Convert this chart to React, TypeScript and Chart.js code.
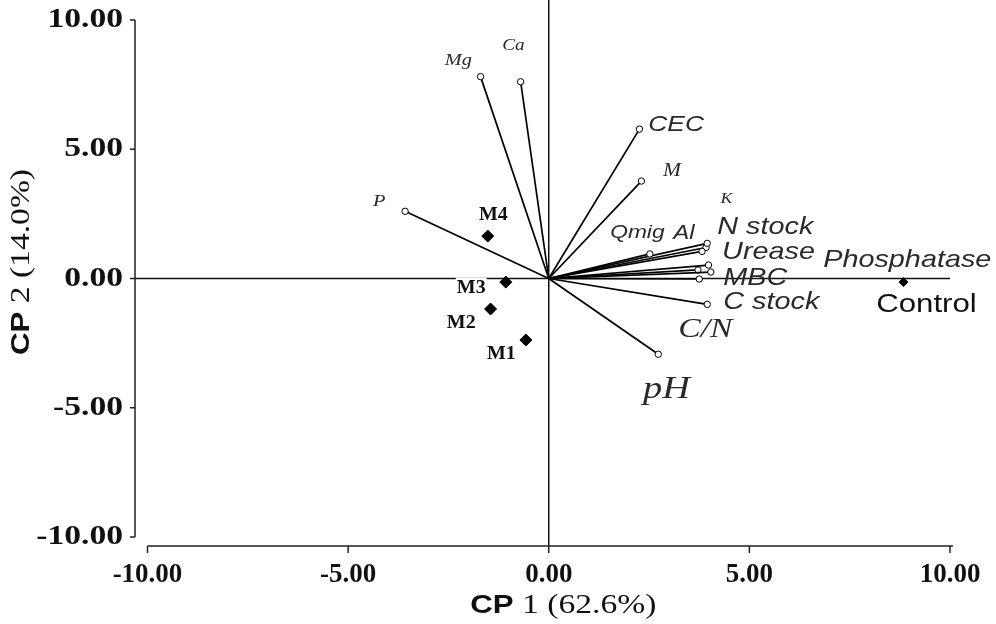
import React, { useEffect, useRef } from 'react';
import { Chart, registerables } from 'chart.js';

Chart.register(...registerables);

// ---- data ----
const variableNames = ['Mg', 'Ca', 'P', 'CEC', 'M', 'Qmig', 'Al', 'K', 'N stock', 'Urease', 'Phosphatase', 'MBC', 'C stock', 'C/N', 'pH'];
const loadingX = [-1.70, -0.70, -3.58, 2.26, 2.31, 2.52, 3.82, 3.95, 3.92, 3.98, 4.04, 3.72, 3.75, 3.95, 2.73];
const loadingY = [7.81, 7.61, 2.60, 5.78, 3.77, 0.95, 1.05, 1.36, 1.20, 0.52, 0.25, 0.33, -0.02, -1.00, -2.93];

const treatmentNames = ['M1', 'M2', 'M3', 'M4', 'Control'];
const scoreX = [-0.57, -1.45, -1.07, -1.52, 8.84];
const scoreY = [-2.38, -1.18, -0.14, 1.64, -0.14];

const xTicks = [-10, -5, 0, 5, 10];
const yTicks = [-10, -5, 0, 5, 10];
const xTitleBold = 'CP';
const xTitleRest = ' 1 (62.6%)';
const yTitleBold = 'CP';
const yTitleRest = ' 2 (14.0%)';

// ---- label placement (data coordinates, left edge / vertical middle) ----
const vectorLabelX = [-2.59, -1.16, -4.38, 2.48, 2.85, 1.53, 3.10, 4.28, 4.20, 4.32, 6.84, 4.35, 4.35, 3.23, 2.35];
const vectorLabelY = [8.45, 8.99, 2.96, 5.94, 4.16, 1.76, 1.76, 3.08, 1.99, 1.03, 0.72, 0.02, -0.91, -1.99, -4.31];
const treatmentLabelX = [-1.54, -2.54, -2.29, -1.74, 8.16];
const treatmentLabelY = [-2.92, -1.72, -0.37, 2.46, -1.03];

// ---- styles ----
const SERIF = '"Liberation Serif", "Times New Roman", serif';
const SANS = '"Liberation Sans", Arial, sans-serif';
const vectorLabelFonts = [
  `italic 17px ${SERIF}`, `italic 16px ${SERIF}`, `italic 17px ${SERIF}`, `italic 22px ${SANS}`,
  `italic 18px ${SERIF}`, `italic 19px ${SANS}`, `italic 20px ${SANS}`, `italic 15px ${SERIF}`,
  `italic 24px ${SANS}`, `italic 24px ${SANS}`, `italic 24px ${SANS}`, `italic 24px ${SANS}`,
  `italic 24px ${SANS}`, `italic 28px ${SERIF}`, `italic 32px ${SERIF}`,
];
const treatmentLabelFonts = [
  `bold 19px ${SERIF}`, `bold 19px ${SERIF}`, `bold 19px ${SERIF}`, `bold 19px ${SERIF}`, `26px ${SANS}`,
];
const STRETCH = 1.2;

function drawText(
  ctx: CanvasRenderingContext2D, s: string, px: number, py: number, font: string,
  align: CanvasTextAlign = 'left', stretch = STRETCH, color = '#111', bg = false,
) {
  ctx.save();
  ctx.font = font;
  ctx.textAlign = align;
  ctx.textBaseline = 'middle';
  ctx.translate(px, py);
  ctx.scale(stretch, 1);
  if (bg) {
    const w = ctx.measureText(s).width;
    const size = parseFloat(font.match(/(\d+(?:\.\d+)?)px/)![1]);
    const left = align === 'left' ? 0 : align === 'right' ? -w : -w / 2;
    ctx.fillStyle = '#fff';
    ctx.fillRect(left - 1, -size * 0.55, w + 2, size * 1.1);
  }
  ctx.fillStyle = color;
  ctx.fillText(s, 0, 0);
  ctx.restore();
}

function drawMixedTitle(ctx: CanvasRenderingContext2D, bold: string, rest: string, cx: number, cy: number, size: number) {
  const fBold = `bold ${size - 2}px ${SANS}`;
  const fRest = `${size}px ${SERIF}`;
  ctx.save();
  ctx.font = fBold;
  const w1 = ctx.measureText(bold).width * STRETCH;
  ctx.font = fRest;
  const w2 = ctx.measureText(rest).width * STRETCH;
  ctx.restore();
  const start = cx - (w1 + w2) / 2;
  drawText(ctx, bold, start, cy, fBold, 'left', STRETCH, '#111');
  drawText(ctx, rest, start + w1, cy, fRest, 'left', STRETCH, '#111');
}

const biplotPlugin = {
  id: 'biplot',
  beforeDatasetsDraw(chart: any) {
    const { ctx, scales } = chart;
    const x = scales.x;
    const y = scales.y;
    const x0 = x.getPixelForValue(0);
    const y0 = y.getPixelForValue(0);
    const xAxisY = y.getPixelForValue(yTicks[0]) + 9;
    const yAxisX = x.getPixelForValue(xTicks[0]) - 12.5;
    ctx.save();
    ctx.strokeStyle = '#111';
    ctx.lineWidth = 1.5;
    ctx.beginPath();
    ctx.moveTo(x0, 0);
    ctx.lineTo(x0, xAxisY);
    ctx.moveTo(yAxisX, y0);
    ctx.lineTo(x.getPixelForValue(xTicks[xTicks.length - 1]), y0);
    ctx.stroke();
    ctx.restore();
  },
  afterDatasetsDraw(chart: any) {
    const { ctx, scales } = chart;
    const x = scales.x;
    const y = scales.y;
    const xAxisY = y.getPixelForValue(yTicks[0]) + 9;
    const yAxisX = x.getPixelForValue(xTicks[0]) - 12.5;

    // axes
    ctx.save();
    ctx.strokeStyle = '#222';
    ctx.lineWidth = 1.5;
    ctx.beginPath();
    ctx.moveTo(yAxisX, y.getPixelForValue(yTicks[yTicks.length - 1]));
    ctx.lineTo(yAxisX, y.getPixelForValue(yTicks[0]));
    for (const t of yTicks) {
      const py = y.getPixelForValue(t);
      ctx.moveTo(yAxisX - 5, py);
      ctx.lineTo(yAxisX, py);
    }
    ctx.moveTo(x.getPixelForValue(xTicks[0]), xAxisY);
    ctx.lineTo(x.getPixelForValue(xTicks[xTicks.length - 1]) + 3, xAxisY);
    for (const t of xTicks) {
      const px = x.getPixelForValue(t);
      ctx.moveTo(px, xAxisY);
      ctx.lineTo(px, xAxisY + 7);
    }
    ctx.stroke();
    ctx.restore();

    // tick labels
    for (const t of yTicks) {
      drawText(ctx, t.toFixed(2), yAxisX - 12, y.getPixelForValue(t), `bold 28px ${SERIF}`, 'right', STRETCH, '#111');
    }
    for (const t of xTicks) {
      drawText(ctx, t.toFixed(2), x.getPixelForValue(t), xAxisY + 29, `bold 27px ${SERIF}`, 'center', 1.0, '#111');
    }

    // axis titles
    drawMixedTitle(ctx, xTitleBold, xTitleRest, (x.getPixelForValue(0) + x.getPixelForValue(xTicks[xTicks.length - 1])) / 2 - 186, xAxisY + 60, 28);
    ctx.save();
    ctx.translate(22, (y.getPixelForValue(yTicks[0]) + y.getPixelForValue(yTicks[yTicks.length - 1])) / 2 + (262 - 278.5));
    ctx.rotate(-Math.PI / 2);
    drawMixedTitle(ctx, yTitleBold, yTitleRest, 0, 0, 28);
    ctx.restore();

    // vector labels
    variableNames.forEach((name, i) => {
      drawText(ctx, name, x.getPixelForValue(vectorLabelX[i]), y.getPixelForValue(vectorLabelY[i]), vectorLabelFonts[i], 'left', STRETCH, '#2a2a2a');
    });
    // treatment labels
    treatmentNames.forEach((name, i) => {
      drawText(ctx, name, x.getPixelForValue(treatmentLabelX[i]), y.getPixelForValue(treatmentLabelY[i]), treatmentLabelFonts[i], 'left', i < 4 ? 1.05 : STRETCH, '#111', i < 4);
    });
  },
};

export default function App() {
  const ref = useRef<HTMLCanvasElement>(null);
  useEffect(() => {
    document.body.style.margin = '0';
    const canvas = ref.current!;
    const datasets: any[] = variableNames.map((name, i) => ({
      label: name,
      data: [{ x: 0, y: 0 }, { x: loadingX[i], y: loadingY[i] }],
      showLine: true,
      borderColor: '#000',
      borderWidth: 1.7,
      pointRadius: [0, 3.2],
      pointStyle: 'circle',
      pointBackgroundColor: '#fff',
      pointBorderColor: '#000',
      pointBorderWidth: 1,
    }));
    datasets.push({
      label: 'Treatments',
      data: treatmentNames.map((_, i) => ({ x: scoreX[i], y: scoreY[i] })),
      showLine: false,
      pointStyle: 'rectRot',
      pointRadius: treatmentNames.map((n) => (n === 'Control' ? 4.5 : 6)),
      pointBackgroundColor: '#000',
      pointBorderColor: '#000',
      pointBorderWidth: 1,
    });
    const chart = new Chart(canvas, {
      type: 'scatter',
      data: { datasets },
      options: {
        animation: false,
        responsive: true,
        maintainAspectRatio: false,
        layout: { padding: { left: 147.5, right: 46, top: 20, bottom: 87 } },
        scales: {
          x: { type: 'linear', min: -10, max: 10, display: false },
          y: { type: 'linear', min: -10, max: 10, display: false },
        },
        plugins: { legend: { display: false }, tooltip: { enabled: false } },
      },
      plugins: [biplotPlugin],
    });
    return () => chart.destroy();
  }, []);
  return (
    <div style={{ position: 'relative', width: 996, height: 624, background: '#fff' }}>
      <canvas ref={ref} />
    </div>
  );
}
